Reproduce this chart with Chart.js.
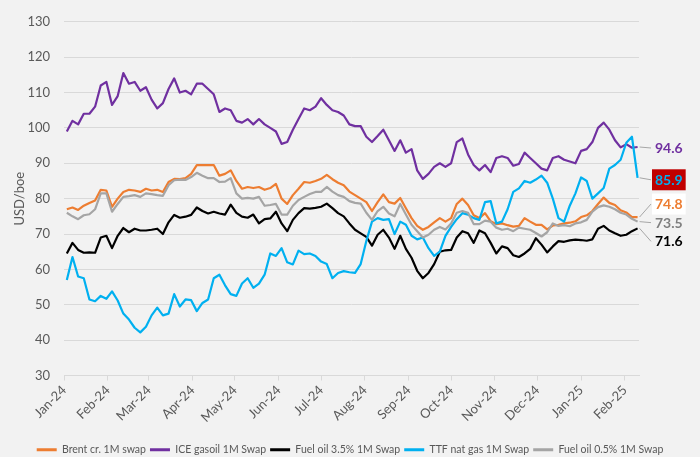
<!DOCTYPE html>
<html>
<head>
<meta charset="utf-8">
<script src="https://cdn.jsdelivr.net/npm/chart.js@4.4.1/dist/chart.umd.min.js"></script>
<style>
  html, body { margin: 0; padding: 0; background: #F2F2F2; }
  canvas { display: block; }
</style>
</head>
<body>
<canvas id="myChart" width="700" height="457"></canvas>
<script>
// x grid: days since 1 Jan 2024, one reading every 4 days
var startDay = 2, stepDays = 4;
var monthDays = [0, 31, 60, 91, 121, 152, 182, 213, 244, 274, 305, 335, 366, 397];
var monthLabels = ["Jan-24", "Feb-24", "Mar-24", "Apr-24", "May-24", "Jun-24", "Jul-24",
                   "Aug-24", "Sep-24", "Oct-24", "Nov-24", "Dec-24", "Jan-25", "Feb-25"];
var yTicks = [30, 40, 50, 60, 70, 80, 90, 100, 110, 120, 130];

var seriesNames = ["Brent cr. 1M swap", "ICE gasoil 1M Swap", "Fuel oil 3.5% 1M Swap",
                   "TTF nat gas 1M Swap", "Fuel oil 0.5% 1M Swap"];
var seriesColors = ["#ED7D31", "#7030A0", "#000000", "#00B0F0", "#A5A5A5"];

var brent = [77, 77.5, 76.8, 78, 78.8, 79.5, 82.5, 82.3, 77.7, 80,
  81.9, 82.5, 82.3, 81.9, 82.8, 82.3, 82.5, 81.9, 84.7, 85.6,
  85.5, 85.8, 87, 89.5, 89.5, 89.5, 89.5, 86.5, 87, 88,
  85, 82.8, 83.3, 83, 83.3, 82.5, 83, 84.2, 80, 78.5,
  81, 82.8, 84.7, 84.5, 85, 85.6, 86.7, 85.5, 84.5, 83.8,
  82, 81, 80, 79, 76.5, 79, 81.2, 79, 78.6, 80.2,
  77.3, 74.5, 72.3, 71.2, 72, 73.3, 74.5, 73.5, 74.5, 78.5,
  80, 78.2, 75.3, 74.5, 75.9, 73.6, 72.8, 73, 72.5, 72.1,
  72.3, 74.5, 73.5, 72.6, 72.6, 71.3, 72.4, 72.6, 73, 73.2,
  73.6, 74.8, 75.3, 76.5, 78.5, 80.3, 78.8, 78.2, 76.7, 76.1,
  74.8, 74.8];

var gasoil = [99, 102, 101, 104, 104, 106, 112, 113, 106.5, 109,
  115.5, 112.5, 113, 110.5, 111.5, 108, 105.5, 107, 111, 114,
  110, 110.5, 109.5, 112.5, 112.5, 111, 109.5, 104.5, 105.5, 105,
  102, 101.5, 102.5, 101, 102.5, 101, 100, 99, 95.5, 96,
  99.5, 102.5, 105.5, 105, 106, 108.4, 106.5, 105, 104.5, 103.5,
  101, 100.5, 100.5, 97.5, 96, 97.7, 99.5, 96.5, 93.5, 96.5,
  93, 94, 88, 85.6, 87, 89, 90, 89, 90, 96,
  97, 92.5, 89.5, 88, 89.5, 87.5, 91.5, 92, 91.5, 89.3,
  89.8, 93, 91.5, 90, 88.5, 88, 91.5, 92, 91, 90.5,
  90, 93.5, 94, 96, 100, 101.5, 99.5, 96.5, 94.5, 95.4,
  94.4, 94.6];

var fuel35 = [64.5, 67.5, 65.5, 64.7, 64.8, 64.7, 69, 69.5, 66, 69.5,
  71.7, 70.5, 71.5, 71, 71, 71.2, 71.5, 70, 73.3, 75.4,
  74.6, 74.9, 75.4, 77.5, 76.5, 75.8, 76.3, 75.8, 75.5, 78.3,
  76, 74.9, 74.6, 75.5, 73, 74.2, 74.4, 76.3, 73, 70.8,
  74, 75.9, 77.3, 77.2, 77.4, 77.7, 78.6, 77.3, 75.9, 75,
  73, 71.2, 70.2, 69.2, 66.7, 69.8, 71.2, 69, 65.8, 69.5,
  65.8, 63.3, 59.6, 57.5, 59, 61.5, 65, 65.4, 65.5, 69,
  70.8, 70.2, 67.5, 71, 70.2, 67.5, 64.5, 66.5, 66, 64,
  63.5, 64.5, 65.8, 68.8, 67, 64.8, 66.5, 68, 67.8, 68.2,
  68.4, 68.3, 68.1, 68.5, 71.5, 72.3, 71, 70.2, 69.5, 69.8,
  70.8, 71.6];

var ttf = [57, 63.5, 58, 57.5, 51.5, 51, 52.5, 51.7, 53.8, 51.2,
  47.5, 45.8, 43.5, 42.2, 43.8, 47, 49.2, 47, 47.5, 53,
  49.5, 51.5, 51.3, 48.2, 50.5, 51.5, 57.5, 58.5, 55.5, 53,
  52.5, 56, 57.5, 54.8, 56, 58.5, 64.5, 63.8, 66, 62,
  61.4, 65.3, 64.3, 64.5, 63.8, 62.2, 61.5, 57.5, 59, 59.5,
  59.2, 59, 61.5, 68, 73.5, 74.5, 74, 74.2, 70, 73.5,
  72.6, 69.5, 68.5, 69, 66, 63.8, 65, 69.5, 72, 74.2,
  75.9, 75.5, 74.5, 74, 79, 79.3, 73, 73.5, 77, 81.9,
  82.9, 85, 84.5, 85.4, 86.5, 84.5, 80, 74.5, 73.5, 78,
  81.5, 86, 85, 80, 81.5, 83, 88.5, 89.5, 91, 95.8,
  97.5, 85.9];

var fuel05 = [76, 75, 74.2, 75.3, 75.6, 77, 81.5, 81.5, 76.3, 78.5,
  80.5, 80.7, 81, 80.5, 81.5, 81.3, 81, 80.8, 83.8, 85.2,
  85.4, 85.3, 86.1, 87.3, 86.5, 85.8, 85.8, 84.7, 84.8, 85.8,
  81.5, 80, 80.2, 80, 80.5, 78, 78.2, 78.5, 75.5, 75.5,
  78, 79.6, 80.5, 81.3, 81.9, 81.9, 83.3, 82, 81, 80.5,
  79.3, 78.8, 78.6, 76, 74, 76.5, 77.7, 75.8, 75, 78.5,
  75.5, 72.6, 70.8, 69, 69.8, 71.2, 72, 71.3, 73, 76,
  76.5, 76, 72.8, 72.8, 73.8, 73.5, 71.8, 71.2, 71.5, 70.8,
  71.8, 71.5, 71.2, 70.3, 69.3, 70.5, 73, 72.3, 72.5, 72.2,
  73, 73.3, 74, 76.3, 77.6, 78.1, 77.7, 77, 76, 75.5,
  74.3, 73.5];

var allSeries = [brent, gasoil, fuel35, ttf, fuel05];

// end-of-line value labels: vertical nudge, text colour, box fill
var endLabelStyle = [
  {dy: -13, color: "#ED7D31", box: "#FFFFFF"},
  {dy: 1, color: "#7030A0", box: null},
  {dy: 13, color: "#000000", box: null},
  {dy: 2, color: "#00B0F0", box: "#C00000"},
  {dy: 1, color: "#7F7F7F", box: null}
];

var FONT = "Lato, 'Open Sans', sans-serif";
var GREY_TEXT = "#595959";
var GRID = "#D9D9D9";

var datasets = allSeries.map(function (vals, i) {
  return {
    label: seriesNames[i],
    data: vals.map(function (v, j) { return {x: startDay + j * stepDays, y: v}; }),
    borderColor: seriesColors[i],
    backgroundColor: seriesColors[i],
    borderWidth: 2.2,
    pointRadius: 0,
    borderJoinStyle: "round",
    fill: false,
    tension: 0,
    order: allSeries.length - i
  };
});

var endLabels = {
  id: "endLabels",
  afterLayout: function (chart) {
    // push the legend a little closer to the bottom edge
    chart.legend.top += 8;
    chart.legend.bottom += 8;
  },
  afterDatasetsDraw: function (chart) {
    var ctx = chart.ctx;
    var xs = chart.scales.x, ys = chart.scales.y;
    ctx.save();
    ctx.font = "bold 14px " + FONT;
    ctx.textBaseline = "middle";
    chart.data.datasets.forEach(function (ds, i) {
      var st = endLabelStyle[i];
      var last = ds.data[ds.data.length - 1];
      var px = xs.getPixelForValue(last.x), py = ys.getPixelForValue(last.y);
      var tx = chart.chartArea.right + 16, ty = py + st.dy;
      ctx.strokeStyle = "#A6A6A6";
      ctx.lineWidth = 1;
      ctx.beginPath();
      ctx.moveTo(px + 2, py);
      ctx.lineTo(tx - 4, ty);
      ctx.stroke();
      var text = last.y.toFixed(1);
      var w = ctx.measureText(text).width;
      if (st.box) {
        ctx.fillStyle = st.box;
        ctx.fillRect(tx - 3, ty - 10.5, w + 6, 21);
      }
      ctx.fillStyle = st.color;
      ctx.fillText(text, tx, ty + 0.5);
    });
    ctx.restore();
  }
};

new Chart(document.getElementById("myChart"), {
  type: "line",
  data: {datasets: datasets},
  options: {
    responsive: false,
    animation: false,
    devicePixelRatio: 1,
    layout: {padding: {left: 0, right: 0, top: 14, bottom: 0}},
    plugins: {
      tooltip: {enabled: false},
      legend: {
        position: "bottom",
        labels: {
          boxWidth: 20,
          boxHeight: 3,
          padding: 4,
          font: {family: FONT, size: 10.5},
          color: GREY_TEXT,
          generateLabels: function (chart) {
            return chart.data.datasets.map(function (ds, i) {
              return {text: ds.label, fillStyle: ds.borderColor, strokeStyle: ds.borderColor,
                      lineWidth: 0, hidden: false, datasetIndex: i, fontColor: GREY_TEXT};
            });
          }
        }
      }
    },
    scales: {
      x: {
        type: "linear",
        min: 0,
        max: 407,
        afterBuildTicks: function (scale) {
          scale.ticks = monthDays.map(function (d) { return {value: d}; });
        },
        afterFit: function (scale) { scale.height = 57; },
        ticks: {
          autoSkip: false,
          minRotation: 45,
          maxRotation: 45,
          padding: 2,
          color: GREY_TEXT,
          font: {family: FONT, size: 13},
          callback: function (value) { return monthLabels[monthDays.indexOf(value)]; }
        },
        grid: {drawOnChartArea: false, drawTicks: true, tickLength: 5, color: GRID},
        border: {color: GRID, width: 1}
      },
      y: {
        min: 30,
        max: 130,
        afterBuildTicks: function (scale) {
          scale.ticks = yTicks.map(function (v) { return {value: v}; });
        },
        afterFit: function (scale) { scale.width = 64; },
        ticks: {padding: 14, color: GREY_TEXT, font: {family: FONT, size: 13}},
        grid: {color: GRID, lineWidth: 1, drawTicks: false},
        border: {display: false},
        title: {display: true, text: "USD/boe", color: GREY_TEXT,
                font: {family: FONT, size: 13}, padding: {top: 12, bottom: 0}}
      },
      yR: {
        position: "right",
        display: true,
        ticks: {display: false},
        grid: {display: false},
        border: {display: false},
        afterFit: function (scale) { scale.width = 61; }
      }
    }
  },
  plugins: [endLabels]
});
</script>
</body>
</html>
